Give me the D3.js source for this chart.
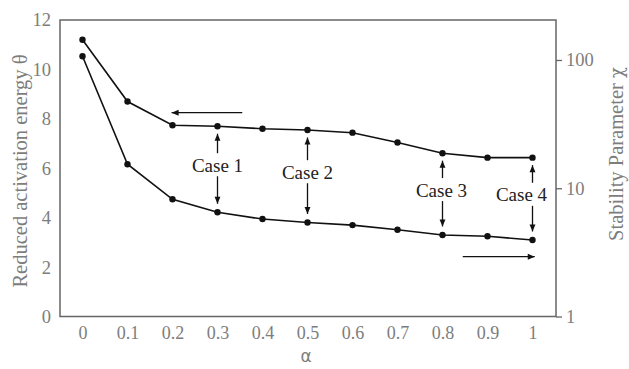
<!DOCTYPE html>
<html>
<head>
<meta charset="utf-8">
<script src="https://cdn.jsdelivr.net/npm/d3@7"></script>
<style>
  html, body { margin: 0; padding: 0; background: #fff; }
  svg { display: block; }
</style>
</head>
<body>
<svg id="chart" width="629" height="369"></svg>
<script>
// Blending ratio α on the x axis
const alphaValues = [0, 0.1, 0.2, 0.3, 0.4, 0.5, 0.6, 0.7, 0.8, 0.9, 1];
const alphaTickLabels = ["0", "0.1", "0.2", "0.3", "0.4", "0.5", "0.6", "0.7", "0.8", "0.9", "1"];
// Reduced activation energy θ (left axis)
const thetaValues = [11.2, 8.7, 7.74, 7.7, 7.6, 7.55, 7.44, 7.04, 6.61, 6.43, 6.43];
// Stability parameter χ (right axis, log scale)
const chiValues = [107, 15.4, 8.2, 6.5, 5.75, 5.41, 5.16, 4.75, 4.32, 4.22, 3.95];
const thetaTicks = [0, 2, 4, 6, 8, 10, 12];
const chiTicks = [1, 10, 100];
// Annotated cases: the α where each double arrow sits
const caseLabels = ["Case 1", "Case 2", "Case 3", "Case 4"];
const caseAlphas = [0.3, 0.5, 0.8, 1];
const caseTextShift = [0, 0, -1, -11];

const svg = d3.select("#chart");
const plotL = 60, plotR = 556, plotT = 20, plotB = 316.5;
const serif = "'Liberation Serif', 'Times New Roman', serif";
const grey = "#7d7d7d";

const x = d3.scaleLinear().domain([0, 1]).range([82.5, 532.5]);
const yL = d3.scaleLinear().domain([0, 12]).range([plotB, plotT]);
const yR = d3.scaleLog().domain([1, 205]).range([plotB, plotT]);

// arrow head marker
const defs = svg.append("defs");
defs.append("marker")
  .attr("id", "head")
  .attr("viewBox", "0 0 10 10")
  .attr("refX", 10).attr("refY", 5)
  .attr("markerWidth", 8).attr("markerHeight", 7)
  .attr("markerUnits", "userSpaceOnUse")
  .attr("orient", "auto")
  .append("path").attr("d", "M0,0.8 L10,5 L0,9.2 Z").attr("fill", "#111");

// frame
svg.append("rect")
  .attr("x", plotL).attr("y", plotT)
  .attr("width", plotR - plotL).attr("height", plotB - plotT)
  .attr("fill", "none").attr("stroke", "#666").attr("stroke-width", 1.5);

// left axis labels (no tick marks)
const axL = svg.append("g").attr("transform", `translate(${plotL},0)`)
  .call(d3.axisLeft(yL).tickValues(thetaTicks).tickSize(0).tickPadding(9));
axL.select(".domain").remove();
axL.selectAll("text").attr("font-family", serif).attr("font-size", 18.5).attr("fill", grey);

// bottom axis labels
const axB = svg.append("g").attr("transform", `translate(0,${plotB})`)
  .call(d3.axisBottom(x).tickValues(alphaValues).tickSize(0).tickPadding(10)
    .tickFormat((d, i) => alphaTickLabels[i]));
axB.select(".domain").remove();
axB.selectAll("text").attr("font-family", serif).attr("font-size", 18).attr("fill", grey);

// right log axis with outward ticks
const axR = svg.append("g").attr("transform", `translate(${plotR},0)`)
  .call(d3.axisRight(yR).tickValues(chiTicks).tickSize(6).tickPadding(4)
    .tickFormat(d3.format("d")));
axR.select(".domain").remove();
axR.selectAll("line").attr("stroke", "#666").attr("stroke-width", 1.3);
axR.selectAll("text").attr("font-family", serif).attr("font-size", 18.5).attr("fill", grey);

// axis titles
svg.append("text")
  .attr("transform", "translate(26.5,171) rotate(-90)")
  .attr("text-anchor", "middle")
  .attr("font-family", serif).attr("font-size", 20.5).attr("fill", grey)
  .text("Reduced activation energy θ");
const rTitle = svg.append("text")
  .attr("transform", "translate(622.5,154) rotate(-90)")
  .attr("text-anchor", "middle")
  .attr("font-family", serif).attr("font-size", 20.5).attr("fill", grey);
rTitle.append("tspan").text("Stability Parameter ");
rTitle.append("tspan").attr("font-family", "'DejaVu Serif', serif").attr("font-size", 18).text("χ");
svg.append("text")
  .attr("x", 306).attr("y", 362)
  .attr("text-anchor", "middle")
  .attr("font-family", "'DejaVu Sans', sans-serif").attr("font-size", 17).attr("fill", grey)
  .text("α");

// data series
const thetaPts = alphaValues.map((a, i) => [x(a), yL(thetaValues[i])]);
const chiPts = alphaValues.map((a, i) => [x(a), yR(chiValues[i])]);
const line = d3.line();
[thetaPts, chiPts].forEach(pts => {
  svg.append("path").attr("d", line(pts))
    .attr("fill", "none").attr("stroke", "#111").attr("stroke-width", 1.6);
  svg.selectAll(null).data(pts).enter().append("circle")
    .attr("cx", d => d[0]).attr("cy", d => d[1]).attr("r", 3.2).attr("fill", "#111");
});

// axis-pointing arrows
function arrow(x1, y1, x2, y2) {
  svg.append("line")
    .attr("x1", x1).attr("y1", y1).attr("x2", x2).attr("y2", y2)
    .attr("stroke", "#111").attr("stroke-width", 1.3)
    .attr("marker-end", "url(#head)");
}
arrow(x(0.355), 112.7, x(0.198), 112.7);
arrow(x(0.845), 256.7, x(1.005), 256.7);

// case annotations: double arrows between the curves with a label in the gap
caseAlphas.forEach((a, i) => {
  const idx = alphaValues.indexOf(a);
  const cx = x(a);
  const yTop = yL(thetaValues[idx]);
  const yBot = yR(chiValues[idx]);
  const mid = (yTop + yBot) / 2 - 4;
  arrow(cx, mid - 12, cx, yTop + 7.5);
  arrow(cx, mid + 11, cx, yBot - 8.5);
  svg.append("text")
    .attr("x", cx + caseTextShift[i]).attr("y", mid + 6.5)
    .attr("text-anchor", "middle")
    .attr("font-family", serif).attr("font-size", 19).attr("fill", "#222")
    .text(caseLabels[i]);
});
</script>
</body>
</html>
